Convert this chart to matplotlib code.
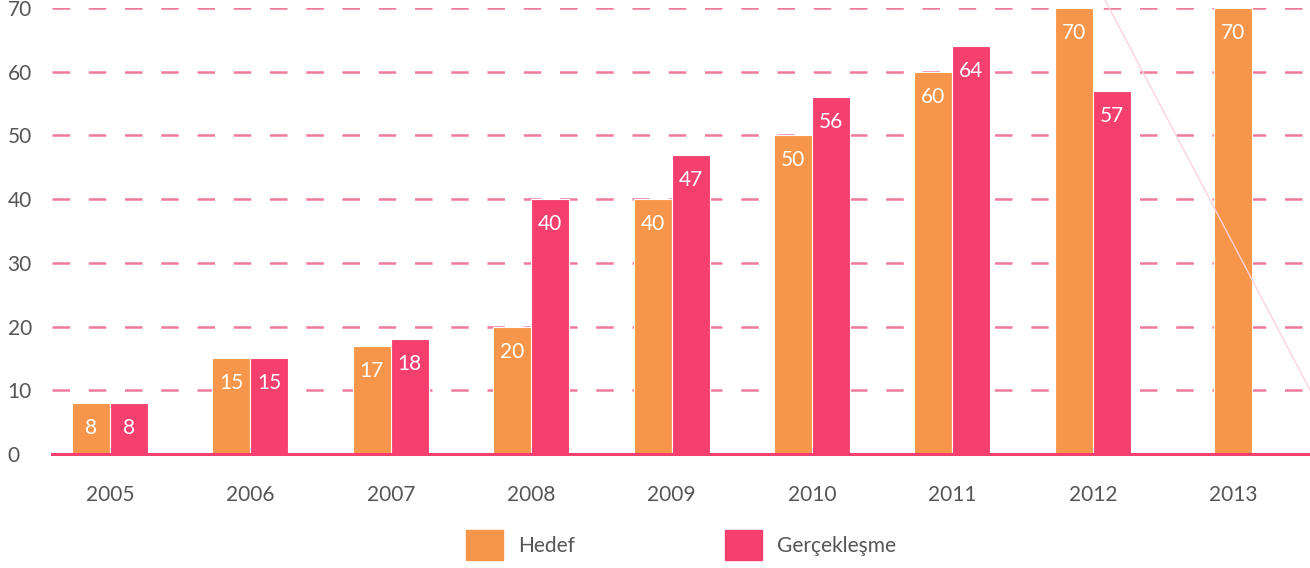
import matplotlib
matplotlib.use("Agg")
import matplotlib.pyplot as plt
import numpy as np
from matplotlib.lines import Line2D
from matplotlib.patches import Patch

plt.rcParams["font.family"] = ["Lato", "DejaVu Sans"]

# data
years = ["2005", "2006", "2007", "2008", "2009", "2010", "2011", "2012", "2013"]
hedef = [8, 15, 17, 20, 40, 50, 60, 70, 70]
gerceklesme = [8, 15, 18, 40, 47, 56, 64, 57, None]

orange = "#F7964A"
pink = "#F5406F"
grid_pink = "#F07A9A"
text_grey = "#555555"

fig = plt.figure(figsize=(13.1, 5.68), dpi=100)
ax = fig.add_axes([52 / 1310, 1 - 454 / 568, 1 - 52 / 1310, 446 / 568])

x = np.arange(len(years))
w = 0.27

for i, (h, g) in enumerate(zip(hedef, gerceklesme)):
    if g is None:
        xs = [(i, h, orange)]
    else:
        xs = [(i - w / 2, h, orange), (i + w / 2, g, pink)]
    for xc, val, col in xs:
        ax.bar(xc, val, width=w, color=col, edgecolor="white", linewidth=0.8, zorder=3)
        ax.annotate(str(val), (xc, val), xytext=(0, -18), textcoords="offset points",
                    ha="center", va="center", color="white", fontsize=15, zorder=4)

# dashed grid
for yv in range(10, 71, 10):
    ax.axhline(yv, color=grid_pink, lw=1.8, dashes=(7, 7.5), zorder=1)
ax.axhline(0, color=pink, lw=2.2, zorder=5, clip_on=False)

ax.set_xlim(-0.413, 8.547)
ax.set_ylim(0, 70)
ax.set_xticks(x)
ax.set_xticklabels(years)
ax.set_yticks(range(0, 71, 10))
ax.tick_params(axis="both", length=0, labelsize=15, colors=text_grey)
ax.tick_params(axis="x", pad=22)
ax.tick_params(axis="y", pad=32)
for lab in ax.get_yticklabels():
    lab.set_horizontalalignment("left")
for s in ax.spines.values():
    s.set_visible(False)

# faint decorative diagonal
fig.add_artist(Line2D([1105 / 1310, 1], [1, 1 - 390 / 568], transform=fig.transFigure,
                      color="#FBD3DD", lw=1))

handles = [Patch(color=orange, label="Hedef"), Patch(color=pink, label="Gerçekleşme")]
fig.legend(handles=handles, ncol=2, loc="center left", bbox_to_anchor=(447 / 1310, 1 - 545 / 568),
           frameon=False, fontsize=15, handlelength=1.8, handleheight=1.8,
           handletextpad=0.7, columnspacing=7.2, labelcolor=text_grey)

fig.savefig("out.png", dpi=100)
